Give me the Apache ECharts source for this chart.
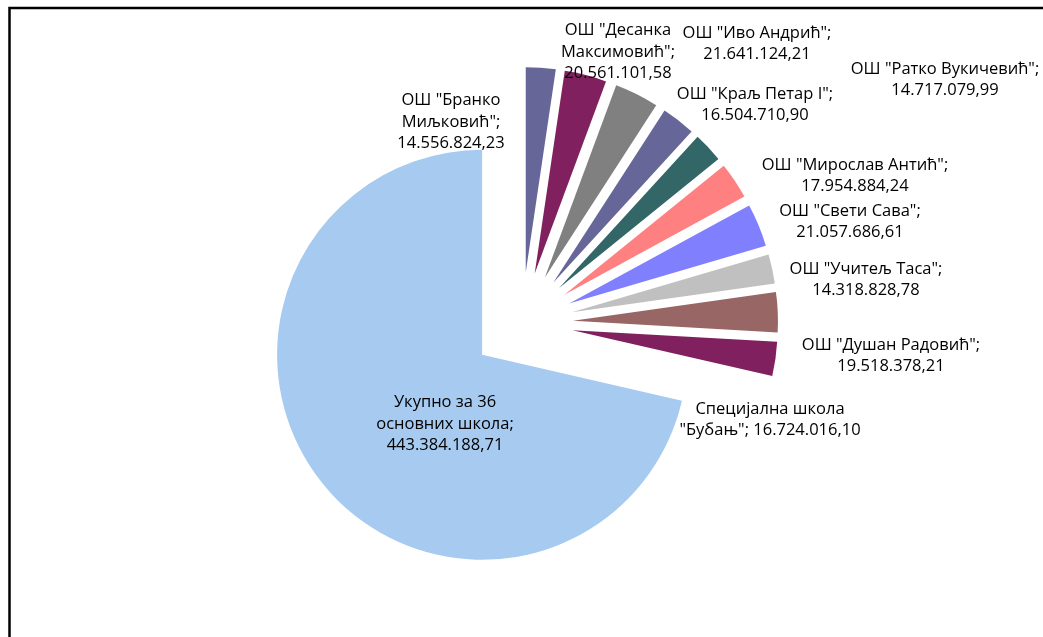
<!DOCTYPE html>
<html lang="sr">
<head>
    <meta charset="UTF-8">
    <title>Школе</title>
    <style>
        html, body { margin: 0; padding: 0; background: #fff; }
        #main { width: 1043px; height: 637px; }
    </style>
</head>
<body>
<div id="main"></div>
<script src="https://cdn.jsdelivr.net/npm/echarts@6/dist/echarts.min.js"></script>
<script>
    // називи школа (са преломима као на графикону)
    var names = [
        'ОШ "Бранко\nМиљковић"',
        'ОШ "Десанка\nМаксимовић"',
        'ОШ "Иво Андрић"',
        'ОШ "Краљ Петар I"',
        'ОШ "Ратко Вукичевић"',
        'ОШ "Мирослав Антић"',
        'ОШ "Свети Сава"',
        'ОШ "Учитељ Таса"',
        'ОШ "Душан Радовић"',
        'Специјална школа\n"Бубањ"',
        'Укупно за 36\nосновних школа'
    ];
    var values = [
        14556824.23, 20561101.58, 21641124.21, 16504710.90, 14717079.99,
        17954884.24, 21057686.61, 14318828.78, 19518378.21, 16724016.10,
        443384188.71
    ];
    var colors = [
        '#666699', '#80205f', '#808080', '#666699', '#336666',
        '#ff8080', '#8080ff', '#c0c0c0', '#996666', '#80205f', '#a6caf0'
    ];
    // положај натписа (центар текста)
    var labelPos = [
        [451, 122], [618, 52], [757, 44], [755, 105], [945, 80],
        [855, 176], [850, 222], [866, 280], [891, 356], [770, 420], [445, 424]
    ];

    function fmt(v) {
        var parts = v.toFixed(2).split('.');
        return parts[0].replace(/\B(?=(\d{3})+(?!\d))/g, '.') + ',' + parts[1];
    }

    var myChart = echarts.init(document.getElementById('main'));
    var data = [];
    var labels = [];
    for (var i = 0; i < names.length; i++) {
        data.push({ name: names[i], value: values[i], selected: true, itemStyle: { color: colors[i] } });
        var sep = i === 9 ? '; ' : ';\n';
        labels.push({
            type: 'text',
            x: labelPos[i][0],
            y: labelPos[i][1],
            z: 100,
            silent: true,
            style: {
                text: names[i] + sep + fmt(values[i]),
                align: 'center',
                verticalAlign: 'middle',
                fill: '#000',
                font: '16.5px "Open Sans"',
                lineHeight: 21.5
            }
        });
    }

    var option = {
        animation: false,
        graphic: [{
            type: 'rect',
            shape: { x: 9.5, y: 8, width: 1200, height: 800 },
            style: { fill: 'none', stroke: '#000', lineWidth: 2.5 },
            z: -10
        }].concat(labels),
        series: [{
            type: 'pie',
            center: [522, 323],
            radius: 205,
            startAngle: 90,
            clockwise: true,
            selectedMode: 'multiple',
            selectedOffset: 51,
            silent: true,
            itemStyle: { borderWidth: 0 },
            label: { show: false },
            labelLine: { show: false },
            data: data
        }]
    };
    myChart.setOption(option);
</script>
</body>
</html>
